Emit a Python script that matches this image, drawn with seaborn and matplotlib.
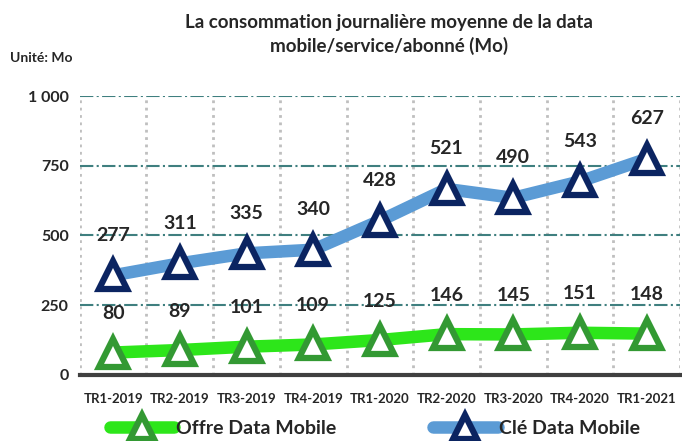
import matplotlib
matplotlib.use('Agg')
import matplotlib.pyplot as plt
import seaborn as sns
import numpy as np

quarters = ['TR1-2019', 'TR2-2019', 'TR3-2019', 'TR4-2019', 'TR1-2020',
            'TR2-2020', 'TR3-2020', 'TR4-2020', 'TR1-2021']
offre = [80, 89, 101, 109, 125, 146, 145, 151, 148]
cle = [277, 311, 335, 340, 428, 521, 490, 543, 627]

# la courbe "Clé" est empilée sur "Offre"
cle_stack = [a + b for a, b in zip(offre, cle)]

sns.set_style('white')
plt.rcParams['font.family'] = ['Lato', 'DejaVu Sans']

fig = plt.figure(figsize=(6.82, 4.41), dpi=100)
ax = fig.add_axes([0.117, 0.150, 0.880, 0.632])

sns.lineplot(x=quarters, y=offre, ax=ax, color='#2de61a', linewidth=9,
             marker='^', markersize=20, markeredgewidth=4.5,
             markeredgecolor='#339933', markerfacecolor='white',
             label='Offre Data Mobile', zorder=3)
sns.lineplot(x=quarters, y=cle_stack, ax=ax, color='#5b9bd5', linewidth=9,
             marker='^', markersize=20, markeredgewidth=4.5,
             markeredgecolor='#0b2461', markerfacecolor='white',
             label='Clé Data Mobile', zorder=3)

for i in range(len(quarters)):
    ax.annotate(str(offre[i]), (i, offre[i]), xytext=(0, 28), textcoords='offset points',
                ha='center', va='center', fontsize=14, fontweight='bold')
    ax.annotate(str(cle[i]), (i, cle_stack[i]), xytext=(0, 29), textcoords='offset points',
                ha='center', va='center', fontsize=14, fontweight='bold')

ax.set_xlim(-0.5, 8.5)
ax.set_ylim(0, 1000)
ax.set_yticks([0, 250, 500, 750, 1000])
ax.set_yticklabels(['0', '250', '500', '750', '1 000'], fontsize=11.5, fontweight='bold')
ax.set_xticks(range(len(quarters)))
ax.set_xticklabels(quarters, fontsize=9.5, fontweight='bold')
ax.set_xticks(np.arange(-0.5, 9, 1), minor=True)
ax.tick_params(axis='x', which='major', length=0, pad=13)
ax.tick_params(axis='x', which='minor', length=5, width=2.5, color='#404040', direction='out')
ax.tick_params(axis='y', length=0, pad=8)

ax.grid(axis='y', which='major', color='#3f7f7f', linestyle='-.', linewidth=1.5)
ax.grid(axis='x', which='minor', color='#bfbfbf', linestyle=':', linewidth=2)
ax.set_axisbelow(True)
for s in ['top', 'right', 'left']:
    ax.spines[s].set_visible(False)
ax.spines['bottom'].set_color('#404040')
ax.spines['bottom'].set_linewidth(3)

handles, labels = ax.get_legend_handles_labels()
ax.get_legend().remove()
fig.legend(handles, labels, loc='lower center', bbox_to_anchor=(0.55, -0.03), ncol=2,
           frameon=False, prop={'size': 14, 'weight': 'bold'}, columnspacing=5,
           handlelength=3.3, handletextpad=0.1, markerscale=0.85)

fig.text(0.57, 0.922, 'La consommation journalière moyenne de la data\nmobile/service/abonné (Mo)',
         ha='center', va='center', fontsize=13.5, fontweight='bold', linespacing=1.35)
fig.text(0.015, 0.868, 'Unité: Mo', ha='left', va='center', fontsize=10, fontweight='bold')

fig.savefig('out.png', dpi=100)
